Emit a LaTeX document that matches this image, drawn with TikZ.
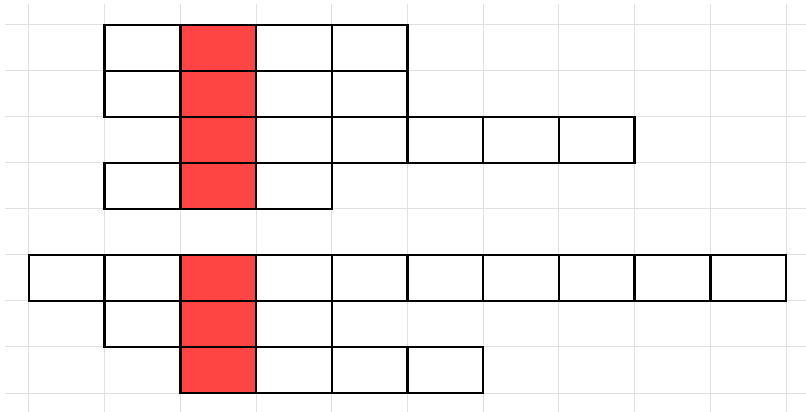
\documentclass[tikz,border=0pt]{standalone}
\usepackage{tikz}
\usetikzlibrary{positioning}
\definecolor{hl}{RGB}{255,68,68}
\definecolor{gridgray}{RGB}{224,224,224}

\begin{document}
\begin{tikzpicture}[x=37.85pt, y=-23pt,
    gridline/.style={gridgray, line width=0.5pt},
    cell/.style={draw=black, line width=1.2pt, rectangle, inner sep=0pt,
                 minimum width=37.85pt, minimum height=23pt}]
    \useasboundingbox (-0.383,-0.543) rectangle (10.264,8.413);

    % light background grid
    \foreach \c in {0,...,10} {
        \draw[gridline] (\c,-0.457) -- (\c,8.413);
    }
    \foreach \r in {0,...,8} {
        \draw[gridline] (-0.317,\r) -- (10.264,\r);
    }

    % rows of cells: row/first column/last column
    \foreach \r/\first/\last in {0/1/4, 1/1/4, 2/2/7, 3/1/3, 5/0/9, 6/1/3, 7/2/5} {
        \foreach \c in {\first,...,\last} {
            \ifnum\c=2 \def\col{hl}\else\def\col{white}\fi
            \node[cell, fill=\col] (cell-\r-\c) at (\c+0.5,\r+0.5) {};
        }
    }
\end{tikzpicture}
\end{document}
